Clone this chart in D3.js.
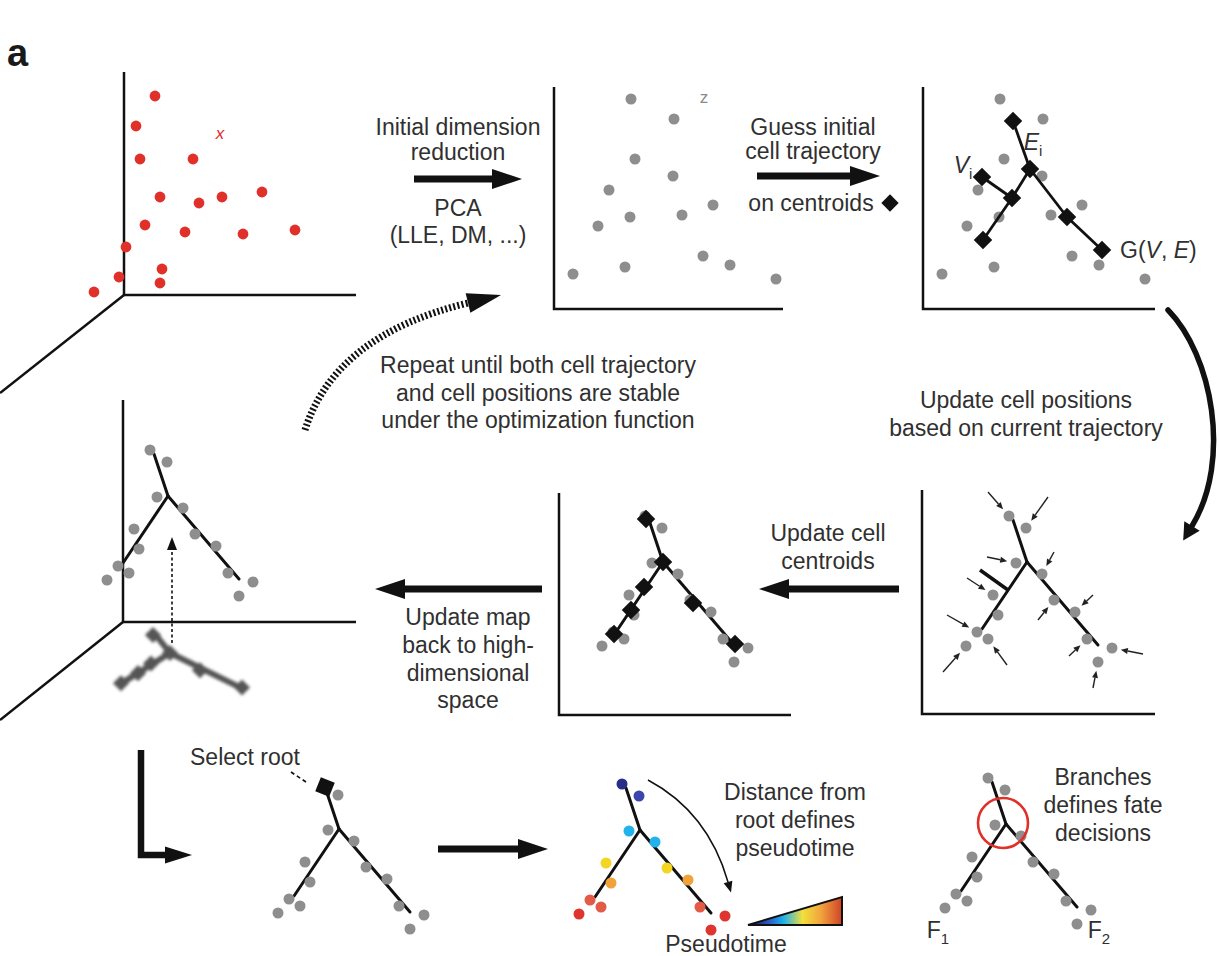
<!DOCTYPE html>
<html>
<head>
<meta charset="utf-8">
<script src="https://cdn.jsdelivr.net/npm/d3@7"></script>
<style>
  body { margin: 0; background: #fff; }
  svg { display: block; }
  text { font-family: 'Liberation Sans', Arial, Helvetica, sans-serif; }
</style>
</head>
<body>
<svg id="chart" width="1219" height="956"></svg>
<script>
// ---- data (panel-local units) ----
// cells in the high-dimensional space (x along axis, y up)
const highDimCells = [
  [31,199],[12,169],[16,136],[69,136],[36,98],[75,92],[98,98],[138,103],
  [21,70],[61,63],[119,61],[171,65],[2,48],[38,26],[-5,18],[36,12],[-30,3]
];
// cells after the first dimension reduction
const reducedCells = [
  [77,210],[120,190],[81,150],[119,133],[55,119],[76,92],[44,83],[128,94],
  [159,104],[19,35],[71,42],[149,53],[176,44],[222,30]
];
// initial centroid guess G(V, E)
const initialCentroids = [[90,188],[107,140],[59,132],[89,111],[144,92],[60,69],[179,59]];
const initialEdges = [[0,1],[1,4],[4,6],[1,3],[2,3],[3,5]];

// the learned tree, relative to its branch point (y down)
const treeCells = [
  [-18,-46],[-1,-34],[-11,1],[15,12],[-34,33],[27,38],[48,50],
  [-29,53],[-50,70],[-39,77],[60,77],[-61,84],[85,86],[71,100]
];
const treeNodes = [[-14,-42],[0,0],[-45,67],[71,83]];   // root, branch, F1 tip, F2 tip
const treeEdges = [[0,1],[1,2],[1,3]];
const updatedCentroids = [[-17,-43],[0,0],[-19,25],[-32,48],[-49,72],[30,41],[72,82]];
// arrows pulling cells onto the tree: [cell index, start dx, start dy]
const moveArrows = [
  [0,-21,-24],[1,22,-31],[2,-29,-6],[3,12,-22],[4,-26,-17],[6,18,-17],[5,-16,20],
  [8,-30,-17],[11,-23,26],[9,19,26],[10,-18,17],[12,31,6],[13,-5,26]
];
const spurEdge = [[-47,8],[-19,28]];

// pseudotime per tree cell and its colour ramp
const pseudotime = [0.02,0.1,0.33,0.33,0.55,0.55,0.7,0.7,0.85,0.85,0.85,0.97,0.97,0.97];
const timeStops  = [0, 0.1, 0.33, 0.55, 0.7, 0.85, 1];
const timeColors = ['#25287f','#3b47ae','#21b3ea','#f3d523','#f1a23a','#e15b47','#df2c29'];
const rampStops  = [[0,'#141a44'],[0.22,'#2a58c4'],[0.38,'#1fb2ea'],[0.58,'#f2e03c'],[0.78,'#f1a23e'],[1,'#cf4326']];

// text
const labelInitial   = ['Initial dimension', 'reduction'];
const labelPCA       = ['PCA', '(LLE, DM, ...)'];
const labelGuess     = ['Guess initial', 'cell trajectory'];
const labelRepeat    = ['Repeat until both cell trajectory', 'and cell positions are stable', 'under the optimization function'];
const labelPositions = ['Update cell positions', 'based on current trajectory'];
const labelCentroids = ['Update cell', 'centroids'];
const labelMap       = ['Update map', 'back to high-', 'dimensional', 'space'];
const labelDistance  = ['Distance from', 'root defines', 'pseudotime'];
const labelBranches  = ['Branches', 'defines fate', 'decisions'];

// ---- layout ----
const layout = {
  p1: { ox: 124, oy: 295, w: 232, h: 223, depth: [-124, 98] },
  p2: { ox: 554, oy: 309, w: 229, h: 222 },
  p3: { ox: 923, oy: 309, w: 232, h: 222 },
  p4: { ox: 123, oy: 622, w: 233, h: 222, depth: [-123, 98], jx: 168, jy: 496 },
  p5: { ox: 559, oy: 715, w: 232, h: 222, jx: 663, jy: 562 },
  p6: { ox: 922, oy: 714, w: 233, h: 224, jx: 1027, jy: 562 },
  p7: { jx: 339, jy: 829 },
  p8: { jx: 640, jy: 830 },
  p9: { jx: 1006, jy: 824 }
};

const INK = '#111', CELL = '#8e8e8e', RED = '#e0302a', TXT = '#303030';

const svg = d3.select('#chart');
const defs = svg.append('defs');
defs.append('filter').attr('id', 'soft')
  .attr('x', '-20%').attr('y', '-30%').attr('width', '140%').attr('height', '160%')
  .append('feGaussianBlur').attr('stdDeviation', 1.4);
const grad = defs.append('linearGradient').attr('id', 'ptRamp');
rampStops.forEach(([o, c]) => grad.append('stop').attr('offset', o).attr('stop-color', c));

const timeColor = d3.scaleLinear().domain(timeStops).range(timeColors).interpolate(d3.interpolateRgb);

// ---- helpers ----
function lin(d0, d1, r0, r1) { return d3.scaleLinear().domain([d0, d1]).range([r0, r1]); }

function scatterScales(p) {
  return { x: lin(0, p.w, p.ox, p.ox + p.w), y: lin(0, p.h, p.oy, p.oy - p.h) };
}
function treeScales(p, squash = 1) {
  return { x: lin(0, 100, p.jx, p.jx + 100), y: lin(0, 100, p.jy, p.jy + 100 * squash) };
}

function drawAxes(p) {
  const g = svg.append('g').attr('fill', 'none').attr('stroke', INK).attr('stroke-width', 2.5);
  g.append('path').attr('d', `M${p.ox},${p.oy - p.h}V${p.oy}H${p.ox + p.w}`);
  if (p.depth) g.append('line')
    .attr('x1', p.ox).attr('y1', p.oy)
    .attr('x2', p.ox + p.depth[0]).attr('y2', p.oy + p.depth[1]);
}

function drawCells(g, s, data, fill, r = 5.5) {
  g.selectAll(null).data(data).join('circle')
    .attr('cx', d => s.x(d[0])).attr('cy', d => s.y(d[1]))
    .attr('r', r).attr('fill', typeof fill === 'function' ? (d, i) => fill(i) : fill);
}

function drawTree(g, s, stroke = INK, width = 3) {
  g.selectAll(null).data(treeEdges).join('line')
    .attr('x1', d => s.x(treeNodes[d[0]][0])).attr('y1', d => s.y(treeNodes[d[0]][1]))
    .attr('x2', d => s.x(treeNodes[d[1]][0])).attr('y2', d => s.y(treeNodes[d[1]][1]))
    .attr('stroke', stroke).attr('stroke-width', width).attr('stroke-linecap', 'round');
}

function drawDiamonds(g, s, data, size = 170, fill = INK) {
  const sym = d3.symbol().type(d3.symbolSquare).size(size);
  g.selectAll(null).data(data).join('path')
    .attr('d', sym)
    .attr('transform', d => `translate(${s.x(d[0])},${s.y(d[1])}) rotate(45)`)
    .attr('fill', fill);
}

function head(g, bx, by, ux, uy, len, hw, fill = INK) {
  const tx = bx + ux * len, ty = by + uy * len;
  const nx = -uy, ny = ux;
  g.append('path')
    .attr('d', `M${tx},${ty}L${bx + nx * hw},${by + ny * hw}L${bx - nx * hw},${by - ny * hw}Z`)
    .attr('fill', fill);
}

function blockArrow(x1, y1, x2, y2, w = 7, len = 30, hw = 10) {
  const L = Math.hypot(x2 - x1, y2 - y1), ux = (x2 - x1) / L, uy = (y2 - y1) / L;
  const bx = x2 - ux * len, by = y2 - uy * len;
  const g = svg.append('g');
  g.append('line').attr('x1', x1).attr('y1', y1).attr('x2', bx + ux).attr('y2', by + uy)
    .attr('stroke', INK).attr('stroke-width', w);
  head(g, bx, by, ux, uy, len, hw);
  return g;
}

function textBlock(lines, cx, cy, dy, size = 23, fill = TXT) {
  const t = svg.append('text').attr('text-anchor', 'middle').attr('font-size', size).attr('fill', fill);
  lines.forEach((s, i) => t.append('tspan').attr('x', cx).attr('y', cy + i * dy).attr('dy', '0.36em').text(s));
  return t;
}

function subLabel(main, sub, x, y, italic, anchor = 'middle') {
  const t = svg.append('text').attr('x', x).attr('y', y).attr('dy', '0.36em')
    .attr('text-anchor', anchor).attr('font-size', 23).attr('fill', TXT);
  t.append('tspan').attr('font-style', italic ? 'italic' : 'normal').text(main);
  t.append('tspan').attr('font-size', 15).attr('dy', 6).text(sub);
}

// ---- panel label ----
svg.append('text').attr('x', 7).attr('y', 66).attr('font-size', 38).attr('font-weight', 'bold')
  .attr('fill', '#1a1a1a').text('a');

// ---- panel 1: high-dimensional cells ----
{
  const p = layout.p1, s = scatterScales(p);
  drawAxes(p);
  drawCells(svg.append('g'), s, highDimCells, RED, 5.4);
  svg.append('text').attr('x', s.x(96)).attr('y', s.y(162)).attr('dy', '0.36em')
    .attr('text-anchor', 'middle').attr('font-size', 17).attr('font-style', 'italic')
    .attr('fill', RED).text('x');
}

// ---- arrow 1 ----
textBlock(labelInitial, 458, 127, 25);
blockArrow(414, 179, 522, 179);
textBlock(labelPCA, 458, 208, 27);

// ---- panel 2: reduced space ----
{
  const p = layout.p2, s = scatterScales(p);
  drawAxes(p);
  drawCells(svg.append('g'), s, reducedCells, CELL);
  svg.append('text').attr('x', s.x(150)).attr('y', s.y(212)).attr('dy', '0.36em')
    .attr('text-anchor', 'middle').attr('font-size', 17).attr('fill', '#8a8a8a').text('z');
}

// ---- arrow 2 ----
textBlock(labelGuess, 813, 127, 24);
blockArrow(757, 176, 880, 176);
textBlock(['on centroids'], 811, 203, 0);
drawDiamonds(svg.append('g'), { x: v => v, y: v => v }, [[890, 203]], 150);

// ---- panel 3: initial trajectory ----
{
  const p = layout.p3, s = scatterScales(p);
  drawAxes(p);
  drawCells(svg.append('g'), s, reducedCells, CELL);
  svg.append('g').selectAll('line').data(initialEdges).join('line')
    .attr('x1', d => s.x(initialCentroids[d[0]][0])).attr('y1', d => s.y(initialCentroids[d[0]][1]))
    .attr('x2', d => s.x(initialCentroids[d[1]][0])).attr('y2', d => s.y(initialCentroids[d[1]][1]))
    .attr('stroke', INK).attr('stroke-width', 2.8);
  drawDiamonds(svg.append('g'), s, initialCentroids);
  subLabel('V', 'i', s.x(40), s.y(144), true);
  subLabel('E', 'i', s.x(110), s.y(167), true);
  const g = svg.append('text').attr('x', s.x(197)).attr('y', s.y(59)).attr('dy', '0.36em')
    .attr('font-size', 23).attr('fill', TXT);
  g.append('tspan').text('G(');
  g.append('tspan').attr('font-style', 'italic').text('V');
  g.append('tspan').text(', ');
  g.append('tspan').attr('font-style', 'italic').text('E');
  g.append('tspan').text(')');
}

// ---- curved arrow to panel 6 ----
{
  const g = svg.append('g');
  g.append('path').attr('d', 'M1168,310 C1212,355 1232,460 1192,526')
    .attr('fill', 'none').attr('stroke', INK).attr('stroke-width', 5.5).attr('stroke-linecap', 'round');
  const ux = -40, uy = 66, L = Math.hypot(ux, uy);
  head(g, 1192, 526, ux / L, uy / L, 17, 9);
}
textBlock(labelPositions, 1026, 400, 28);

// ---- repeat loop ----
{
  const g = svg.append('g');
  g.append('path').attr('d', 'M305,430 Q335,335 468,303')
    .attr('fill', 'none').attr('stroke', INK).attr('stroke-width', 7)
    .attr('stroke-dasharray', '2,2.2');
  const ux = 133, uy = -32, L = Math.hypot(ux, uy);
  head(g, 468, 303, ux / L, uy / L, 34, 10);
}
textBlock(labelRepeat, 538, 365, 27.5);

// ---- panel 6: move cells onto tree ----
{
  const p = layout.p6, s = treeScales(p);
  drawAxes(p);
  const g = svg.append('g');
  drawTree(g, s);
  g.append('line')
    .attr('x1', s.x(spurEdge[0][0])).attr('y1', s.y(spurEdge[0][1]))
    .attr('x2', s.x(spurEdge[1][0])).attr('y2', s.y(spurEdge[1][1]))
    .attr('stroke', INK).attr('stroke-width', 3.5);
  drawCells(g, s, treeCells, CELL);
  moveArrows.forEach(([i, dx, dy]) => {
    const c = treeCells[i];
    const L = Math.hypot(dx, dy), ux = -dx / L, uy = -dy / L;
    const x1 = s.x(c[0] + dx), y1 = s.y(c[1] + dy);
    const tx = s.x(c[0]) - ux * 9, ty = s.y(c[1]) - uy * 9;
    const bx = tx - ux * 7, by = ty - uy * 7;
    g.append('line').attr('x1', x1).attr('y1', y1).attr('x2', bx).attr('y2', by)
      .attr('stroke', '#222').attr('stroke-width', 1.4);
    head(g, bx, by, ux, uy, 7, 3, '#222');
  });
}

// ---- arrow: update centroids ----
textBlock(labelCentroids, 828, 533, 28);
blockArrow(899, 589, 759, 589);

// ---- panel 5: updated centroids ----
{
  const p = layout.p5, s = treeScales(p);
  drawAxes(p);
  const g = svg.append('g');
  drawTree(g, s);
  drawCells(g, s, treeCells, CELL);
  drawDiamonds(g, s, updatedCentroids);
}

// ---- arrow: map back ----
blockArrow(542, 589, 375, 589);
textBlock(labelMap, 468, 617, 27.7);

// ---- panel 4: tree in high-dimensional space ----
{
  const p = layout.p4, s = treeScales(p);
  drawAxes(p);
  const g = svg.append('g');
  // projection on the floor
  const sp = treeScales({ jx: 170, jy: 653 }, 0.42);
  const pg = svg.append('g').attr('filter', 'url(#soft)');
  drawTree(pg, sp, '#555', 6);
  drawDiamonds(pg, sp, updatedCentroids, 130, '#555');
  // dotted lift arrow
  g.append('line').attr('x1', 172).attr('y1', 643).attr('x2', 172).attr('y2', 548)
    .attr('stroke', INK).attr('stroke-width', 1.6).attr('stroke-dasharray', '3,2.5');
  head(g, 172, 550, 0, -1, 13, 5);
  drawTree(g, s);
  drawCells(g, s, treeCells, CELL);
}

// ---- bottom row ----
{
  const g = svg.append('g');
  g.append('path').attr('d', 'M141,750V855H166').attr('fill', 'none')
    .attr('stroke', INK).attr('stroke-width', 6.5);
  head(g, 165, 855, 1, 0, 27, 8.5);
}
// select root
{
  const p = layout.p7, s = treeScales(p);
  const g = svg.append('g');
  drawTree(g, s);
  drawCells(g, s, treeCells.slice(1), CELL);
  const r = treeNodes[0];
  g.append('rect').attr('x', -7.5).attr('y', -7.5).attr('width', 15).attr('height', 15)
    .attr('fill', INK).attr('transform', `translate(${s.x(r[0])},${s.y(r[1])}) rotate(22)`);
  g.append('line').attr('x1', s.x(r[0] - 34)).attr('y1', s.y(r[1] - 15))
    .attr('x2', s.x(r[0] - 19)).attr('y2', s.y(r[1] - 5))
    .attr('stroke', INK).attr('stroke-width', 1.6).attr('stroke-dasharray', '4,3');
  textBlock(['Select root'], 245, 757, 0);
}
blockArrow(438, 849, 548, 849);

// pseudotime
{
  const p = layout.p8, s = treeScales(p);
  const g = svg.append('g');
  drawTree(g, s);
  drawCells(g, s, treeCells, i => timeColor(pseudotime[i]));
  g.append('path').attr('d', 'M648,780 Q708,812 728,882').attr('fill', 'none')
    .attr('stroke', INK).attr('stroke-width', 1.5);
  const ux = 20, uy = 70, L = Math.hypot(ux, uy);
  head(g, 728, 882, ux / L, uy / L, 11, 4.5);
  g.append('path').attr('d', 'M748,925L842,925L842,897Z')
    .attr('fill', 'url(#ptRamp)').attr('stroke', INK).attr('stroke-width', 2).attr('stroke-linejoin', 'miter');
  textBlock(labelDistance, 795, 792, 28);
  textBlock(['Pseudotime'], 726, 944, 0);
}

// branches
{
  const p = layout.p9, s = treeScales(p);
  const g = svg.append('g');
  drawTree(g, s);
  drawCells(g, s, treeCells, CELL);
  g.append('circle').attr('cx', s.x(-3)).attr('cy', s.y(-1)).attr('r', 25)
    .attr('fill', 'none').attr('stroke', RED).attr('stroke-width', 2.6);
  textBlock(labelBranches, 1103, 777, 28);
  subLabel('F', '1', 938, 930, false);
  subLabel('F', '2', 1099, 930, false);
}
</script>
</body>
</html>
